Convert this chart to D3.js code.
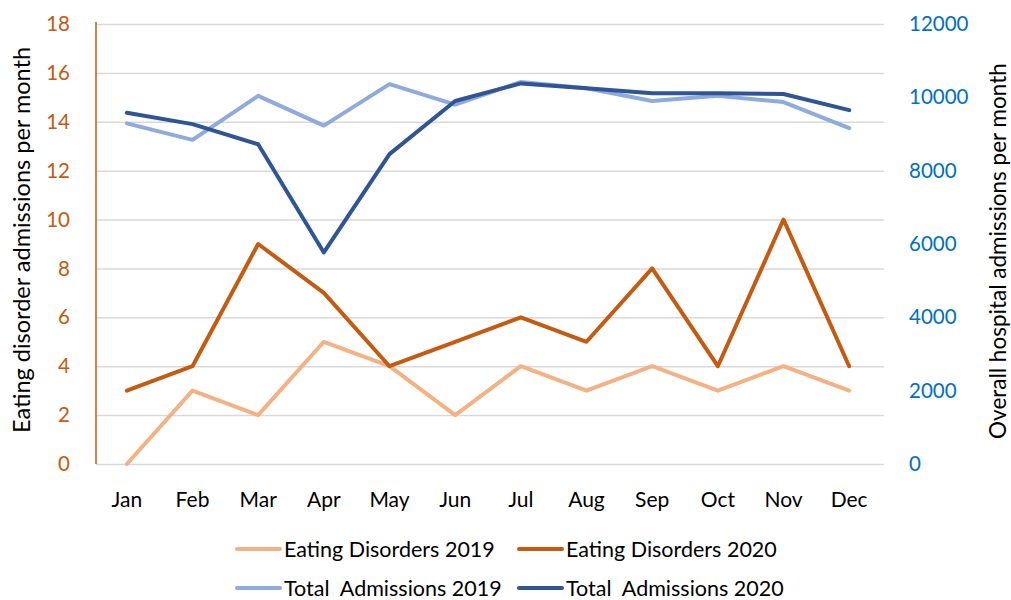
<!DOCTYPE html>
<html>
<head>
<meta charset="utf-8">
<script src="https://cdn.jsdelivr.net/npm/d3@7"></script>
<style>
  body { margin: 0; background: #fff; }
  svg { font-family: Lato, "Open Sans", sans-serif; }
</style>
</head>
<body>
<svg width="1011" height="600"></svg>
<script>
// chart data
var months = ["Jan", "Feb", "Mar", "Apr", "May", "Jun", "Jul", "Aug", "Sep", "Oct", "Nov", "Dec"];
var eating2019 = [0, 3, 2, 5, 4, 2, 4, 3, 4, 3, 4, 3];
var eating2020 = [3, 4, 9, 7, 4, 5, 6, 5, 8, 4, 10, 4];
var total2019 = [9290, 8840, 10040, 9230, 10360, 9800, 10420, 10250, 9900, 10040, 9870, 9160];
var total2020 = [9580, 9270, 8720, 5770, 8450, 9900, 10380, 10250, 10110, 10110, 10090, 9650];
var leftTicks = [0, 2, 4, 6, 8, 10, 12, 14, 16, 18];
var rightTicks = [0, 2000, 4000, 6000, 8000, 10000, 12000];

var series = [
  { name: "Eating Disorders 2019", values: eating2019, axis: "left", color: "#F4B183" },
  { name: "Eating Disorders 2020", values: eating2020, axis: "left", color: "#C55A11" },
  { name: "Total  Admissions 2019", values: total2019, axis: "right", color: "#8FAADC" },
  { name: "Total  Admissions 2020", values: total2020, axis: "right", color: "#2F5597" }
];

var plot = { left: 96, right: 884, top: 24, bottom: 464 };

var svg = d3.select("svg");

var x = d3.scaleBand().domain(months).range([94, 882]);
var yLeft = d3.scaleLinear().domain([0, 18]).range([plot.bottom, plot.top]);
var yRight = d3.scaleLinear().domain([0, 12000]).range([plot.bottom, plot.top]);

// gridlines
svg.append("g")
  .attr("transform", `translate(${plot.left},0)`)
  .call(d3.axisLeft(yLeft).tickValues(leftTicks).tickSize(-(plot.right - plot.left)).tickFormat(""))
  .call(g => g.select(".domain").remove())
  .call(g => g.selectAll("line").attr("stroke", "#d9d9d9").attr("stroke-width", 1.5));

// left axis
svg.append("g")
  .attr("transform", `translate(${plot.left},0)`)
  .call(d3.axisLeft(yLeft).tickValues(leftTicks).tickSize(0).tickPadding(26))
  .call(g => g.select(".domain").attr("stroke", "#C55A11").attr("stroke-width", 1.5).attr("d", `M0,${plot.top - 2}V${plot.bottom}`))
  .call(g => g.selectAll("text").attr("fill", "#C55A11").style("font-size", "20.5px").style("font-family", "Lato"));

// right axis
svg.append("g")
  .attr("transform", `translate(${plot.right},0)`)
  .call(d3.axisRight(yRight).tickValues(rightTicks).tickSize(0).tickPadding(25).tickFormat(d3.format("d")))
  .call(g => g.select(".domain").remove())
  .call(g => g.selectAll("text").attr("fill", "#0070C0").style("font-size", "20.5px").style("font-family", "Lato"));

// x axis labels
svg.append("g")
  .attr("transform", `translate(0,${plot.bottom})`)
  .call(d3.axisBottom(x).tickSize(0).tickPadding(28))
  .call(g => g.select(".domain").remove())
  .call(g => g.selectAll("text").attr("fill", "#000").style("font-size", "21px").style("font-family", "Lato"));

// axis titles
svg.append("text")
  .attr("transform", "translate(21,240) rotate(-90)")
  .attr("text-anchor", "middle")
  .attr("dominant-baseline", "central")
  .style("font-size", "23.5px")
  .text("Eating disorder admissions per month");

svg.append("text")
  .attr("transform", "translate(997,251) rotate(-90)")
  .attr("text-anchor", "middle")
  .attr("dominant-baseline", "central")
  .style("font-size", "22.5px")
  .text("Overall hospital admissions per month");

// lines
series.forEach(s => {
  var y = s.axis == "left" ? yLeft : yRight;
  var line = d3.line()
    .x((d, i) => x(months[i]) + x.bandwidth() / 2)
    .y(d => y(d));
  svg.append("path")
    .datum(s.values)
    .attr("fill", "none")
    .attr("stroke", s.color)
    .attr("stroke-width", 4)
    .attr("stroke-linejoin", "round")
    .attr("stroke-linecap", "round")
    .attr("d", line);
});

// legend
var legendPos = [[236, 549], [518, 549], [236, 588], [518, 588]];
series.forEach((s, i) => {
  var p = legendPos[i];
  var g = svg.append("g").attr("transform", `translate(${p[0]},${p[1]})`);
  g.append("line").attr("x1", 1).attr("x2", 44).attr("y1", 0).attr("y2", 0)
    .attr("stroke", s.color).attr("stroke-width", 4).attr("stroke-linecap", "round");
  g.append("text").attr("x", 48).attr("y", 0).attr("dominant-baseline", "central")
    .style("font-size", "21.5px").style("white-space", "pre").text(s.name);
});
</script>
</body>
</html>
